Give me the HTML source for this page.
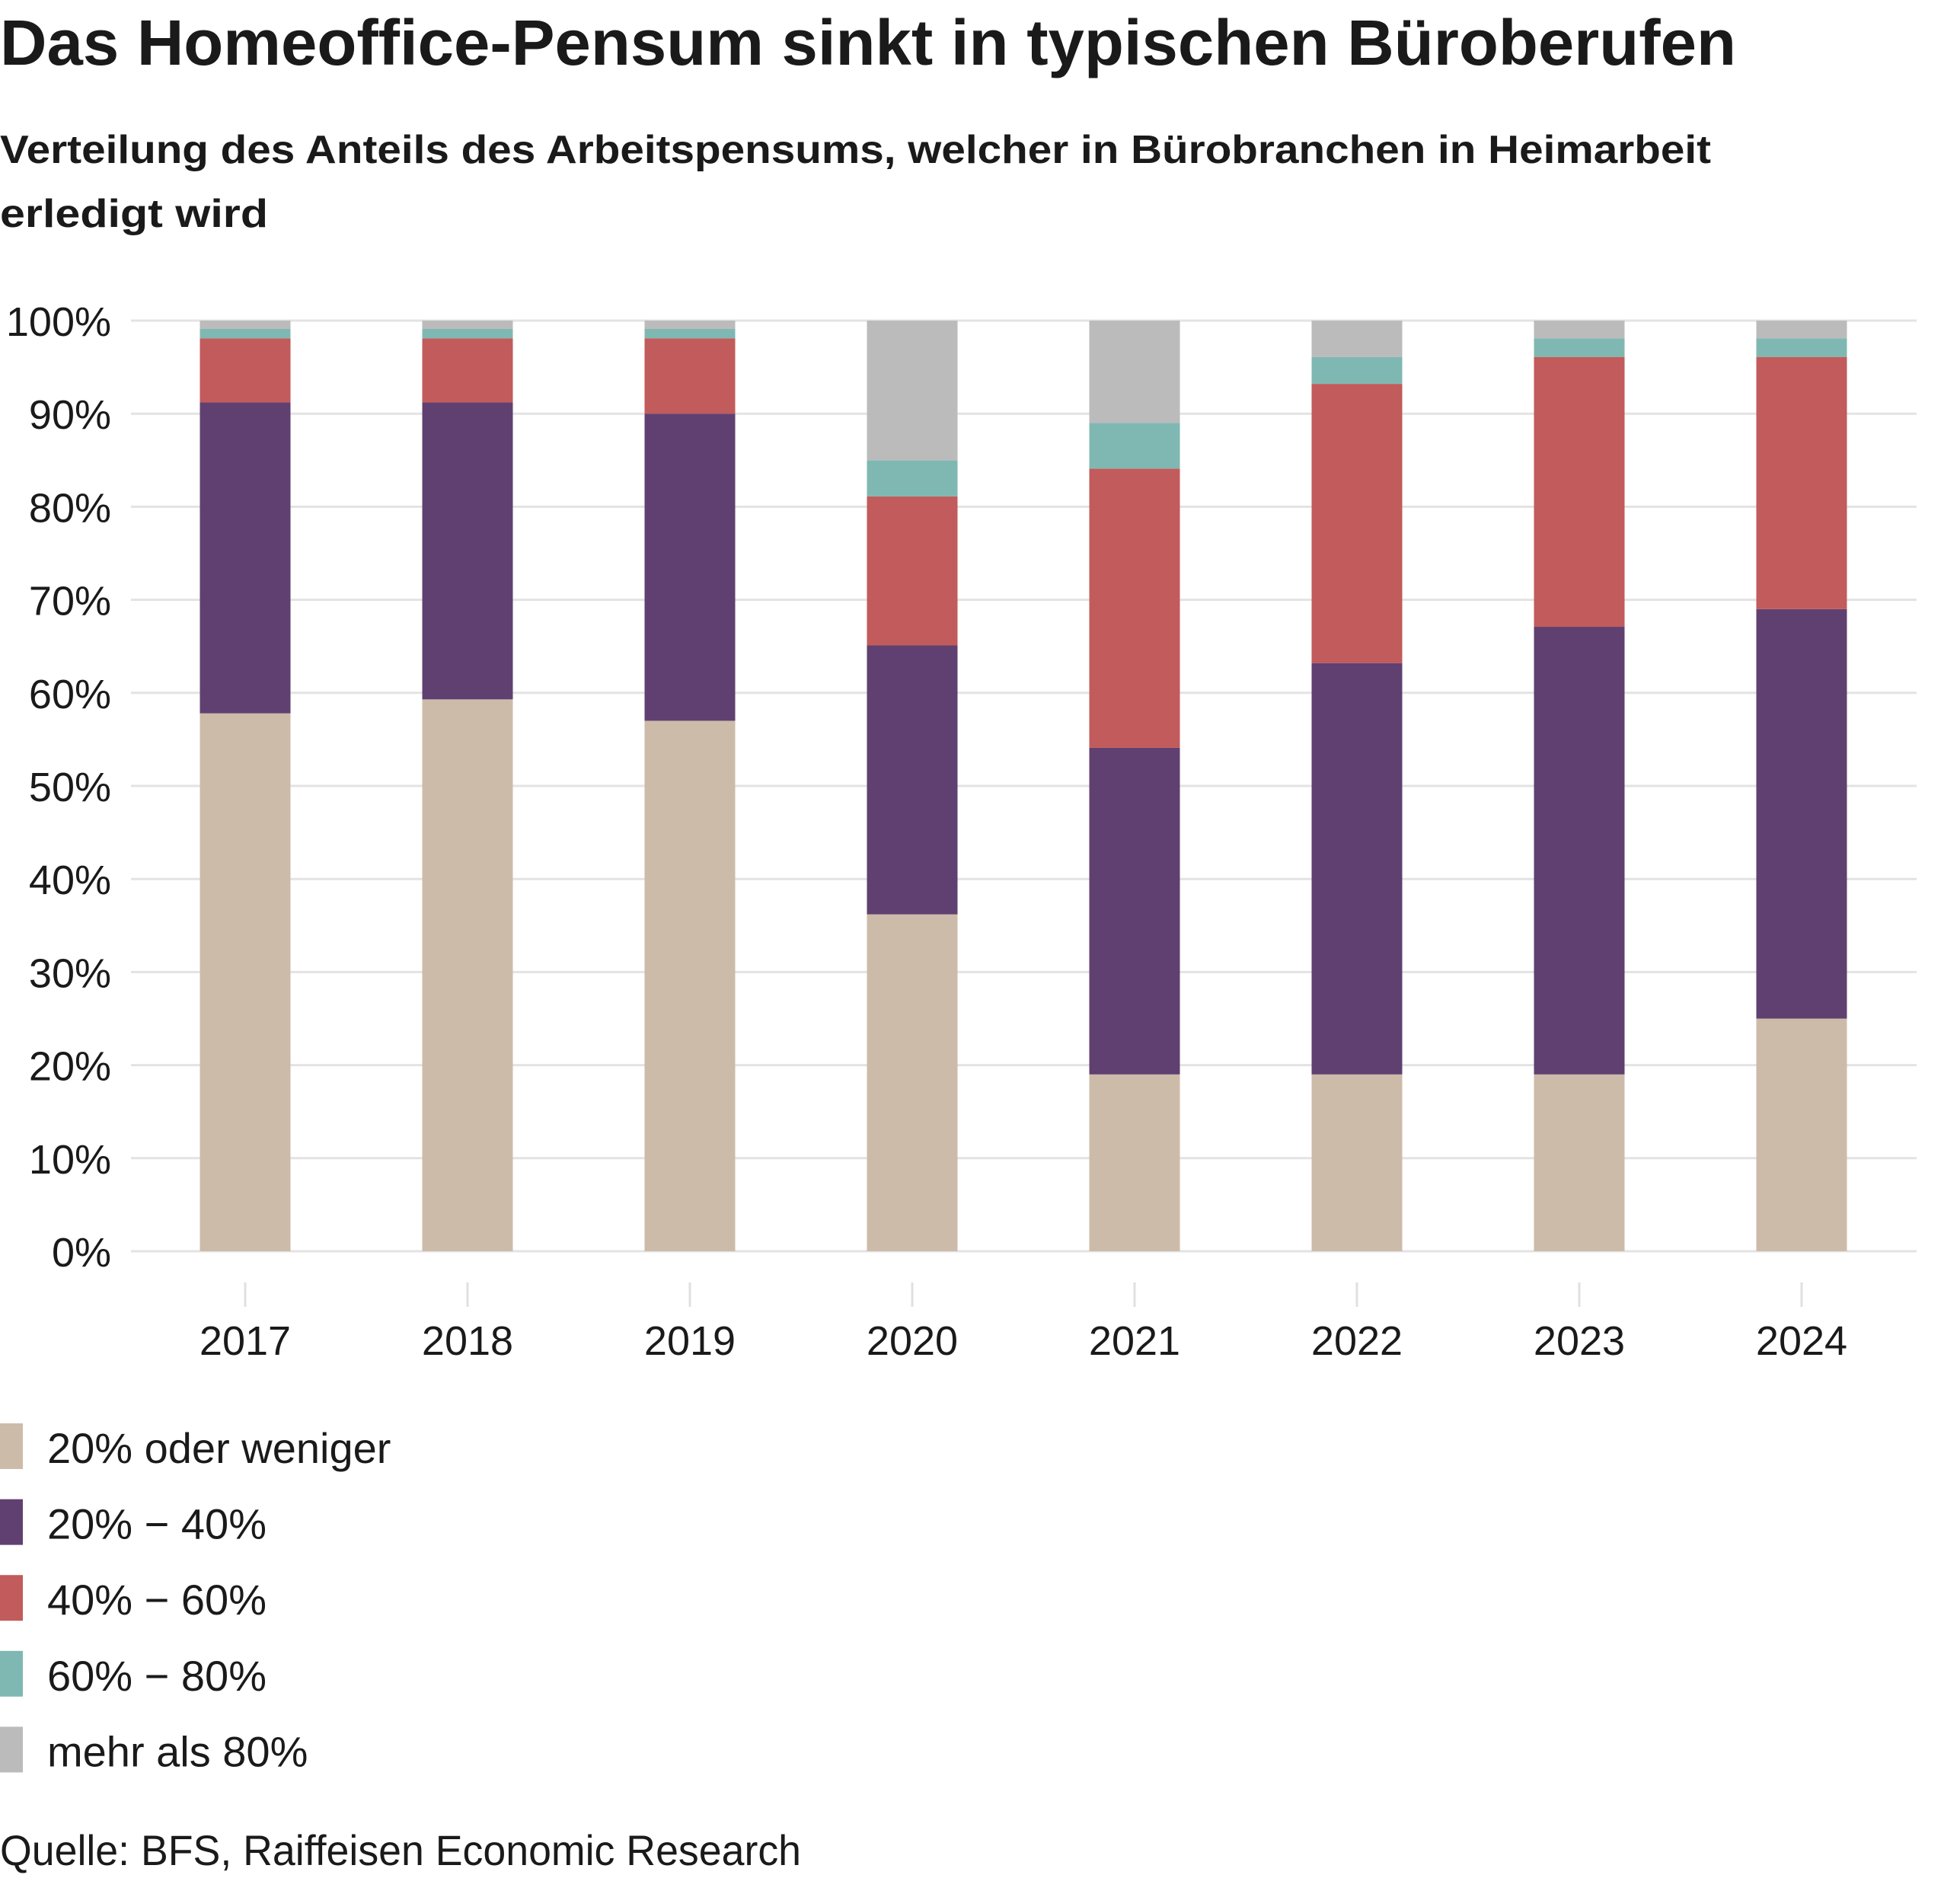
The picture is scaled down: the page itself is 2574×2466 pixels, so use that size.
<!DOCTYPE html>
<html><head><meta charset="utf-8"><style>
html,body{margin:0;padding:0;background:#fff;}
svg{display:block;font-family:"Liberation Sans",sans-serif;}
</style></head><body>
<svg id="chart" width="2574" height="2466" viewBox="0 0 2574 2466">
<text x="0" y="85" font-size="84" font-weight="bold" fill="#1a1a1a" textLength="2280" lengthAdjust="spacingAndGlyphs">Das Homeoffice-Pensum sinkt in typischen Büroberufen</text>
<text x="0" y="214" font-size="52" font-weight="bold" fill="#1a1a1a" textLength="2247" lengthAdjust="spacingAndGlyphs">Verteilung des Anteils des Arbeitspensums, welcher in Bürobranchen in Heimarbeit</text>
<text x="0" y="298" font-size="52" font-weight="bold" fill="#1a1a1a" textLength="352" lengthAdjust="spacingAndGlyphs">erledigt wird</text>
<g id="grid"></g><g id="bars"></g><g id="xaxis"></g><g id="legend"></g>
<text x="0" y="2449" font-size="56" fill="#1a1a1a" textLength="1052" lengthAdjust="spacingAndGlyphs">Quelle: BFS, Raiffeisen Economic Research</text>
</svg>
<script>
const years = ["2017","2018","2019","2020","2021","2022","2023","2024"];
const seriesNames = ["20% oder weniger","20% − 40%","40% − 60%","60% − 80%","mehr als 80%"];
const s1 = [57.8,59.3,57.0,36.2,19.0,19.0,19.0,25.0];
const s2 = [33.4,31.9,33.0,28.9,35.1,44.2,48.1,44.0];
const s3 = [6.9,6.9,8.1,16.0,30.0,30.0,29.0,27.1];
const s4 = [1.0,1.0,1.0,3.9,4.9,2.9,2.0,2.0];
const s5 = [0.9,0.9,0.9,15.0,11.0,3.9,1.9,1.9];
const yTicks = [0,10,20,30,40,50,60,70,80,90,100];
const yTickLabels = ["0%","10%","20%","30%","40%","50%","60%","70%","80%","90%","100%"];
const colors = ["#CDBBA9","#604070","#C25B5B","#7FB8B2","#BBBBBB"];
const NS="http://www.w3.org/2000/svg";
const y0=1643,y1=421,xl=172,xr=2517,c0=322,step=292,bw=119;
const yS=v=>y0-(y0-y1)*v/100;
const xS=i=>c0+i*step;
function mk(t,a,p){const e=document.createElementNS(NS,t);for(const k in a)e.setAttribute(k,a[k]);p.appendChild(e);return e;}
const grid=document.getElementById('grid');
yTicks.forEach((v,i)=>{
 const l=mk('line',{x1:xl,x2:xr,y1:yS(v),y2:yS(v),stroke:'#e3e3e3','stroke-width':3},grid);
 
 
 const t=mk('text',{x:146,y:yS(v)+20,'text-anchor':'end','font-size':54,fill:'#1a1a1a'},grid);
 t.textContent=yTickLabels[i];
 
 
});
const series=[s1,s2,s3,s4,s5];
const bars=document.getElementById('bars');
years.forEach((yr,i)=>{
 let acc=0;
 series.forEach((s,k)=>{
  const a=acc,b=acc+s[i];acc=b;
  const r=mk('rect',{x:xS(i)-bw/2,y:yS(b),width:bw,height:yS(a)-yS(b),fill:colors[k]},bars);
  
  
 });
});
const xa=document.getElementById('xaxis');
years.forEach((yr,i)=>{
 const l=mk('line',{x1:xS(i),x2:xS(i),y1:1684,y2:1716,stroke:'#e0e0e0','stroke-width':3},xa);
 
 
 const t=mk('text',{x:xS(i),y:1779,'text-anchor':'middle','font-size':54,fill:'#1a1a1a'},xa);
 t.textContent=yr;
 
 
});
const lg=document.getElementById('legend');
seriesNames.forEach((n,k)=>{
 const y=1869+k*99.6;
 const r=mk('rect',{x:0,y:y,width:30,height:60,fill:colors[k]},lg);
 
 
 const t=mk('text',{x:62,y:y+52,'font-size':56,fill:'#1a1a1a'},lg);
 t.textContent=n;
 
 
});
</script>
</body></html>
